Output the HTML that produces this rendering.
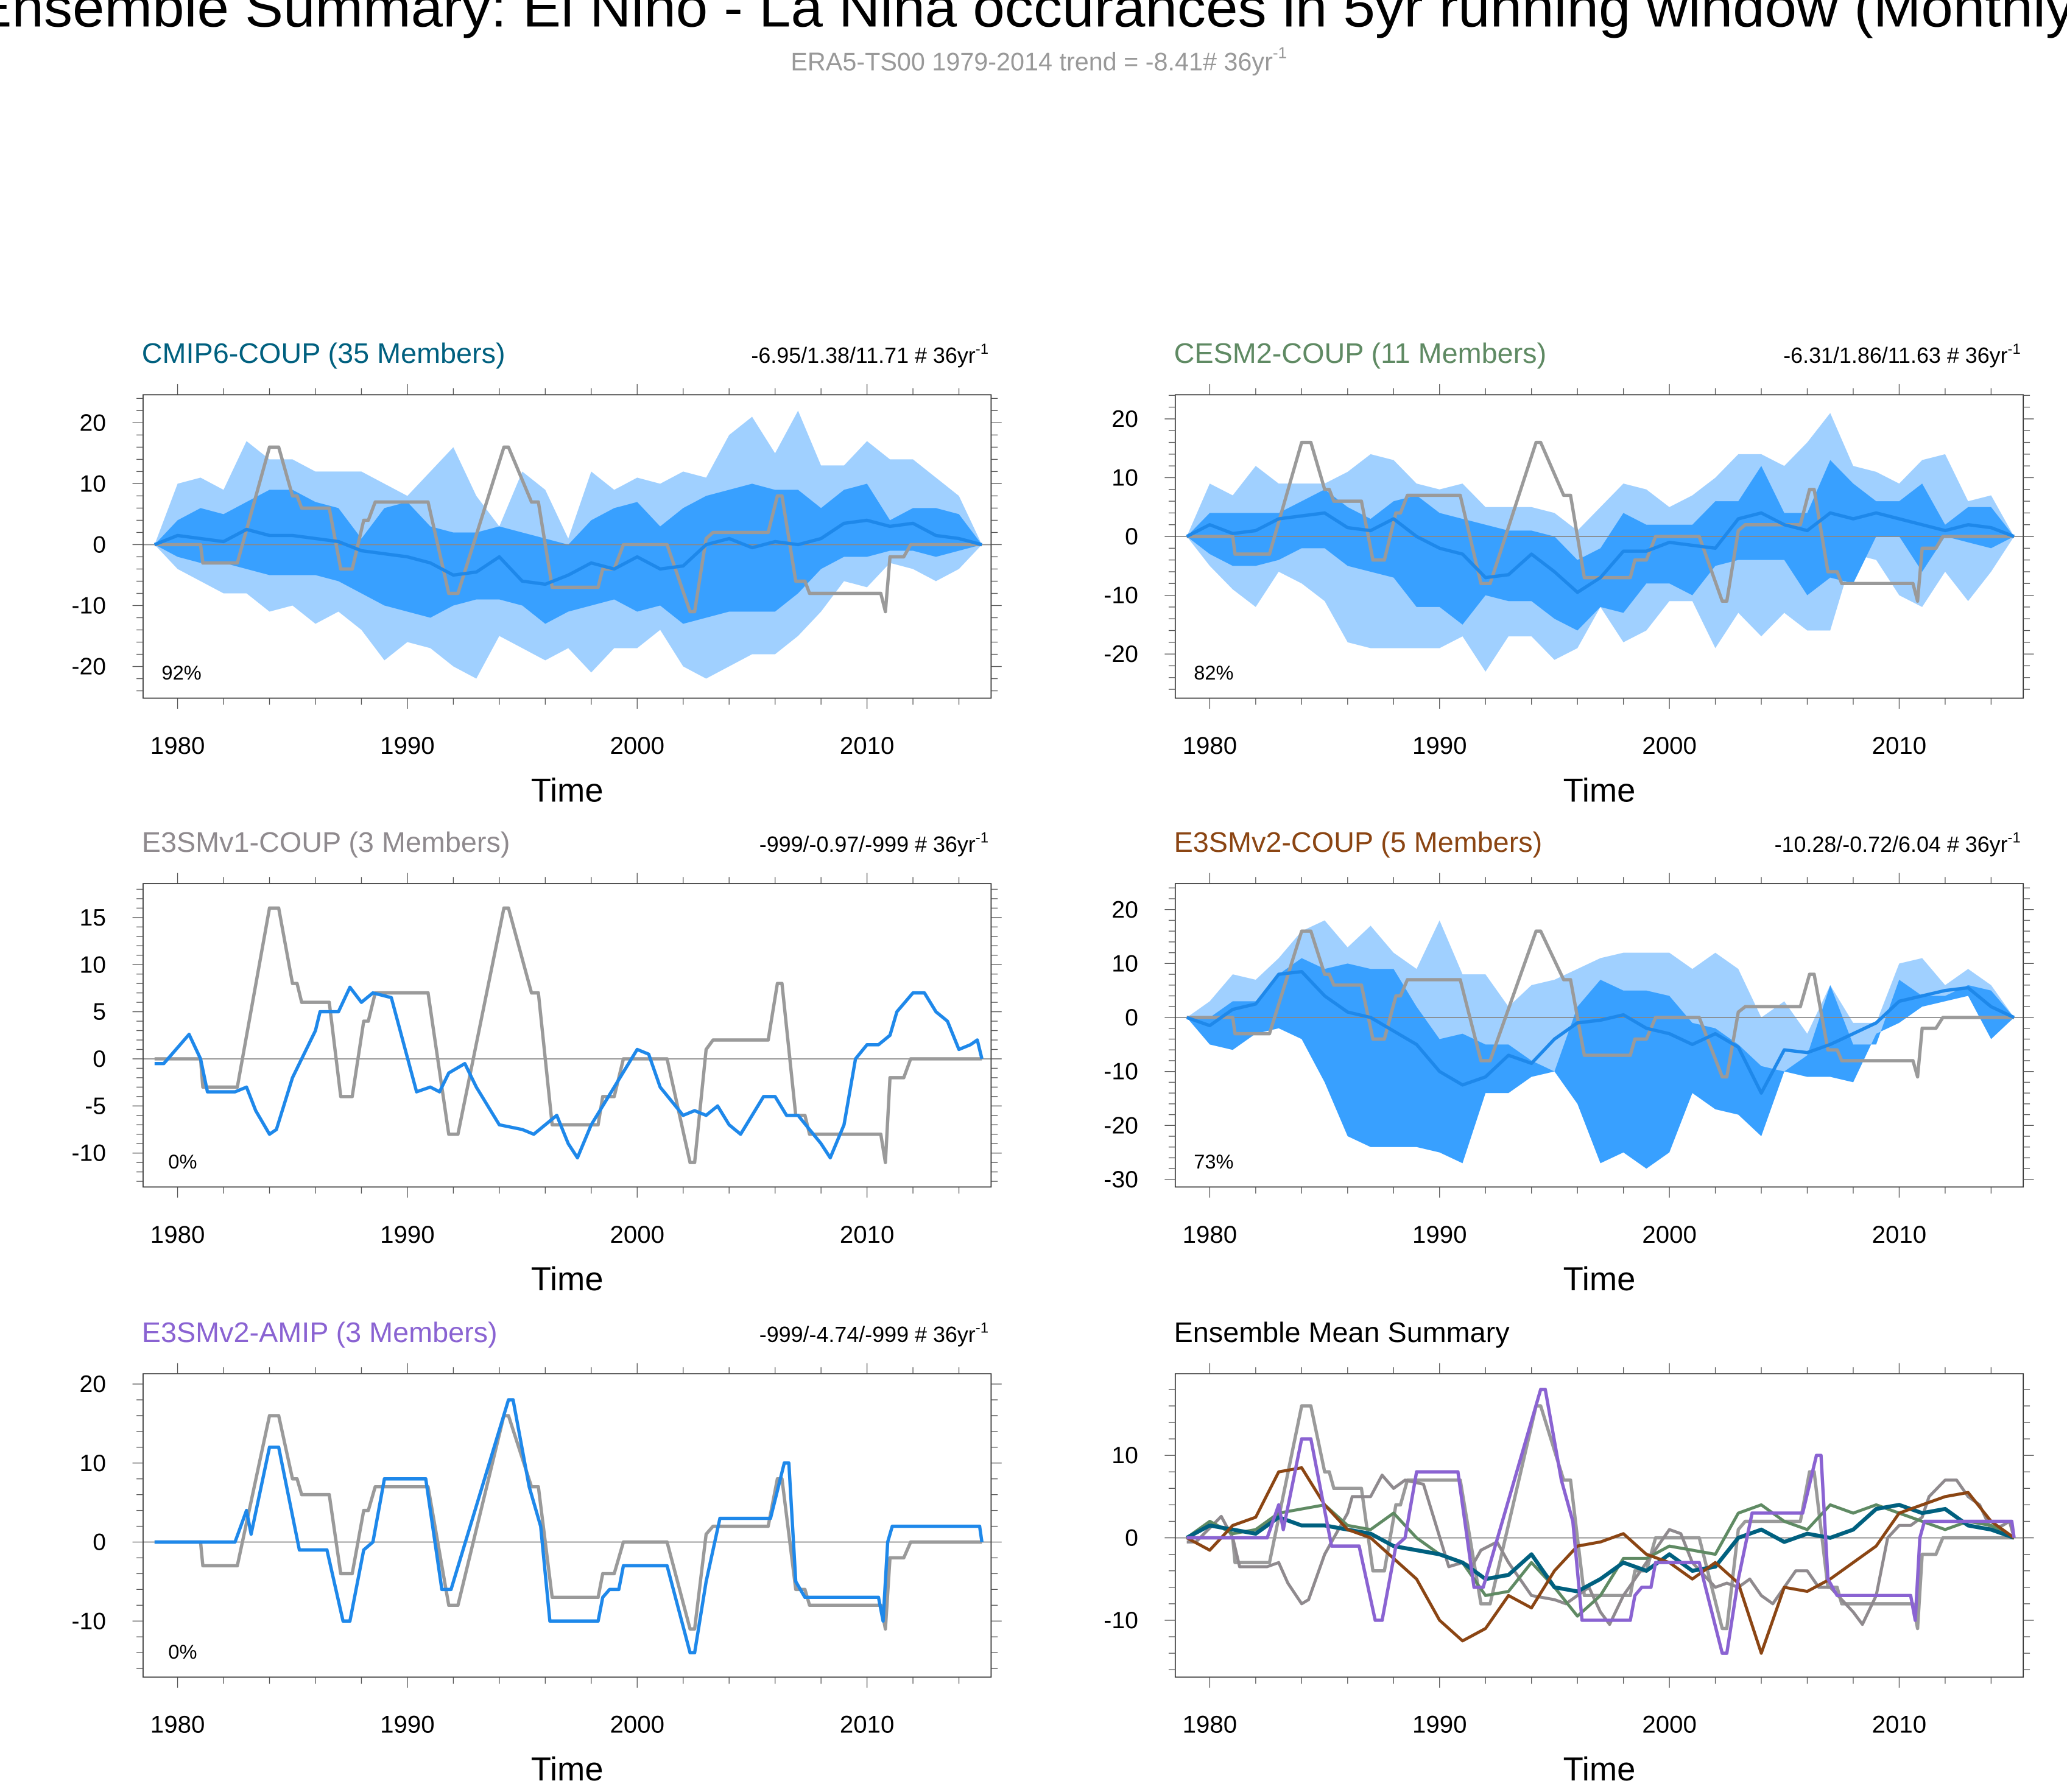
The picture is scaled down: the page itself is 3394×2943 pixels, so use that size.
<!DOCTYPE html>
<html><head><meta charset="utf-8"><title>Ensemble Summary</title>
<style>
html,body{margin:0;padding:0;background:#fff;overflow:hidden}
svg{display:block;font-family:"Liberation Sans",Arial,sans-serif}
</style></head>
<body>
<svg id="chart" xmlns="http://www.w3.org/2000/svg" width="3394" height="2943" viewBox="0 0 1560 1352.7" preserveAspectRatio="none">
<text x="780" y="20" text-anchor="middle" font-size="42" textLength="1600" lengthAdjust="spacingAndGlyphs" fill="#000">Ensemble Summary: El Niño - La Niña occurances in 5yr running window (Monthly)</text>
<text x="784" y="53" text-anchor="middle" font-size="19" fill="#999">ERA5-TS00 1979-2014 trend = -8.41# 36yr<tspan font-size="12" dy="-9">-1</tspan></text>
</svg>
<script>
// ---------- data ----------
const YEARS = [1979,1980,1981,1982,1983,1984,1985,1986,1987,1988,1989,1990,1991,1992,1993,1994,1995,1996,1997,1998,1999,2000,2001,2002,2003,2004,2005,2006,2007,2008,2009,2010,2011,2012,2013,2014,2015];

const obsYears = [1979,1981,1981.1,1982.6,1984,1984.4,1985,1985.2,1985.4,1986.6,1987.1,1987.6,1988.1,1988.3,1988.6,1990.9,1991.8,1992.2,1994.2,1994.4,1995.4,1995.7,1996.3,1998.3,1998.5,1999.0,1999.4,2001.3,2002.3,2002.5,2003.0,2003.3,2005.7,2006.1,2006.3,2006.9,2007.3,2007.5,2010.6,2010.8,2011.0,2011.6,2011.9,2015];
const obsVals  = [0,0,-3,-3,16,16,8,8,6,6,-4,-4,4,4,7,7,-8,-8,16,16,7,7,-7,-7,-4,-4,0,0,-11,-11,1,2,2,8,8,-6,-6,-8,-8,-11,-2,-2,0,0];

// CMIP6-COUP
const cmipOuterHi = [0,10,11,9,17,14,14,12,12,12,10,8,12,16,8,3,12,9,1,12,9,11,10,12,11,18,21,15,22,13,13,17,14,14,11,8,0];
const cmipOuterLo = [0,-4,-6,-8,-8,-11,-10,-13,-11,-14,-19,-16,-17,-20,-22,-15,-17,-19,-17,-21,-17,-17,-14,-20,-22,-20,-18,-18,-15,-11,-6,-7,-3,-4,-6,-4,0];
const cmipInnerHi = [0,4,6,5,7,9,9,7,6,1,6,7,3,2,2,3,2,1,0,4,6,7,3,6,8,9,10,9,9,6,9,10,4,6,6,5,0];
const cmipInnerLo = [0,-2,-3,-3,-4,-5,-5,-5,-6,-8,-10,-11,-12,-10,-9,-9,-10,-13,-11,-10,-9,-11,-10,-13,-12,-11,-11,-11,-8,-4,-2,-2,-1,-1,-2,-1,0];
const cmipMean    = [0,1.5,1,0.5,2.5,1.5,1.5,1,0.5,-1,-1.5,-2,-3,-5,-4.5,-2,-6,-6.5,-5,-3,-4,-2,-4,-3.5,0,1,-0.5,0.5,0,1,3.5,4,3,3.5,1.5,1,0];

// CESM2-COUP
const cesmOuterHi = [0,9,7,12,9,9,9,11,14,13,9,8,9,5,5,5,4,1,5,9,8,5,7,10,14,14,12,16,21,12,11,9,13,14,6,7,0];
const cesmOuterLo = [0,-5,-9,-12,-6,-8,-11,-18,-19,-19,-19,-19,-17,-23,-17,-17,-21,-19,-12,-18,-16,-11,-11,-19,-13,-17,-13,-16,-16,-3,-4,-10,-12,-6,-11,-6,0];
const cesmInnerHi = [0,4,4,4,4,6,8,5,3,6,7,4,3,2,1,1,0,-4,-2,4,2,2,2,6,6,12,4,4,13,9,6,6,9,2,5,5,0];
const cesmInnerLo = [0,-3,-5,-5,-4,-2,-2,-5,-6,-7,-12,-12,-15,-10,-11,-11,-14,-16,-12,-13,-8,-8,-10,-5,-4,-4,-4,-10,-7,-8,0,0,-6,0,-1,-2,0];
const cesmMean    = [0,2,0.5,1,3,3.5,4,1.5,1,3,0,-2,-3,-7,-6.5,-3,-6,-9.5,-7,-2.5,-2.5,-1,-1.5,-2,3,4,2,1,4,3,4,3,2,1,2,1.5,0];

// E3SMv1-COUP (single series)
const v1Years = [1979,1979.4,1980.5,1981,1981.3,1982.5,1983,1983.4,1984,1984.3,1985,1986,1986.2,1987,1987.5,1988,1988.5,1989.3,1990.4,1991,1991.4,1991.8,1992.5,1993,1994,1995,1995.5,1996,1996.5,1997,1997.4,1998,1999,2000,2000.5,2001,2002,2002.5,2003,2003.5,2004,2004.5,2005,2005.5,2006,2006.5,2007,2007.5,2008,2008.4,2009,2009.5,2010,2010.5,2011,2011.3,2012,2012.5,2013,2013.5,2014,2014.5,2014.8,2015];
const v1Vals  = [-0.5,-0.5,2.6,0,-3.5,-3.5,-3,-5.5,-8,-7.5,-2,3,5,5,7.6,6,7,6.5,-3.5,-3,-3.5,-1.5,-0.5,-3,-7,-7.5,-8,-7,-6,-9,-10.5,-7,-3,1,0.5,-3,-6,-5.5,-6,-5,-7,-8,-6,-4,-4,-6,-6,-7.5,-9,-10.5,-7,0,1.5,1.5,2.5,5,7,7,5,4,1,1.5,2,0];

// E3SMv2-COUP
const v2OuterHi = [0,3,8,7,11,16,18,13,17,12,9,18,8,8,2,6,7,9,11,12,12,12,9,12,9,0,3,-3,6,-1,-1,10,11,6,9,6,0];
const v2InnerHi = [0,0,3,3,8,11,9,10,9,9,2,-4,-3,-5,-5,-8,-10,2,7,5,5,4,-1,-2,-5,-9,-10,-7,6,-5,-5,7,4,4,6,5,0];
const v2InnerLo = [0,-5,-6,-3,-2,-4,-12,-22,-24,-24,-24,-25,-27,-14,-14,-11,-10,-16,-27,-25,-28,-25,-14,-17,-18,-22,-10,-11,-11,-12,-3,-1,2,3,4,-4,0];
const v2Mean    = [0,-1.5,1.5,2.5,8,8.5,4,1,0,-2.5,-5,-10,-12.5,-11,-7,-8.5,-4,-1,-0.5,0.5,-2,-3,-5,-3,-5.5,-14,-6,-6.5,-5,-3,-1,3,4,5,5.5,2,0];

// E3SMv2-AMIP
const amipYears = [1979,1982.5,1983,1983.2,1984,1984.4,1985.3,1986.5,1987.2,1987.5,1988.1,1988.5,1989,1990.8,1991.5,1991.9,1994.4,1994.6,1995.3,1995.8,1996.2,1998.3,1998.5,1998.8,1999.2,1999.4,2001.3,2002.3,2002.5,2003,2003.6,2005.8,2006.4,2006.6,2006.9,2007.3,2010.5,2010.7,2010.9,2011.1,2014.9,2015];
const amipVals  = [0,0,4,1,12,12,-1,-1,-10,-10,-1,0,8,8,-6,-6,18,18,7,2,-10,-10,-7,-6,-6,-3,-3,-14,-14,-5,3,3,10,10,-5,-7,-7,-10,0,2,2,0];

// ---------- layout ----------
const NS = 'http://www.w3.org/2000/svg';
const svg = document.getElementById('chart');
const C = {light:'#a0d0ff', dark:'#38a0ff', mean:'#1e88ea', obs:'#9a9a9a'};
function el(tag, attrs, parent){const e=document.createElementNS(NS,tag);for(const k in attrs)e.setAttribute(k,attrs[k]);(parent||svg).appendChild(e);return e;}

function makePanel(p){
  const g = el('g',{});
  
  
  const X0=1978.5, X1=2015.4;
  const sx = y => p.x + (y-X0)/(X1-X0)*p.w;
  const sy = v => p.y + (p.ymax-v)/(p.ymax-p.ymin)*p.h;
  const clip = 'clip-'+p.name;
  const cp = el('clipPath',{id:clip},g); el('rect',{x:p.x,y:p.y,width:p.w,height:p.h},cp);
  const plot = el('g',{'clip-path':'url(#'+clip+')'},g);
  
  
  function band(hi, lo, col, nm){
    let pts = YEARS.map((yr,i)=>sx(yr)+','+sy(hi[i]));
    pts = pts.concat(YEARS.slice().reverse().map((yr,j)=>{const i=YEARS.length-1-j;return sx(yr)+','+sy(lo[i]);}));
    const b = el('polygon',{points:pts.join(' '),fill:col},plot);
    
    
  }
  function line(xs, vs, col, w, nm){
    const d = xs.map((yr,i)=>(i?'L':'M')+sx(yr).toFixed(2)+','+sy(vs[i]).toFixed(2)).join('');
    const l = el('path',{d:d,fill:'none',stroke:col,'stroke-width':w,'stroke-linejoin':'round'},plot);
    
    
  }
  if(p.outerHi) band(p.outerHi, p.outerLo, C.light, 'outer-spread-band');
  if(p.innerHi) band(p.innerHi, p.innerLo, C.dark, 'inner-spread-band');
  const z = el('line',{x1:p.x,x2:p.x+p.w,y1:sy(0),y2:sy(0),stroke:'#888','stroke-width':0.8},plot);
  
  
  (p.lines||[]).forEach(L=>line(L.x, L.v, L.c, L.w, L.n));
  const fr = el('rect',{x:p.x,y:p.y,width:p.w,height:p.h,fill:'none',stroke:'#333','stroke-width':0.8},g);
  
  
  for(let yr=1980; yr<=2014; yr+=2){
    const maj = yr%10===0, L = maj?8:5, xx=sx(yr);
    el('line',{x1:xx,x2:xx,y1:p.y,y2:p.y-L,stroke:'#555','stroke-width':0.6},g);
    el('line',{x1:xx,x2:xx,y1:p.y+p.h,y2:p.y+p.h+L,stroke:'#555','stroke-width':0.6},g);
    if(maj){
      const t = el('text',{x:xx,y:p.y+p.h+42,'text-anchor':'middle','font-size':18.5,fill:'#000'},g);
      t.textContent = yr;
      
      
    }
  }
  for(let v=Math.ceil(p.ymin/p.minor)*p.minor; v<=p.ymax; v+=p.minor){
    const maj = Math.abs(v/p.major - Math.round(v/p.major))<1e-6, L = maj?8:5, yy=sy(v);
    el('line',{x1:p.x,x2:p.x-L,y1:yy,y2:yy,stroke:'#555','stroke-width':0.6},g);
    el('line',{x1:p.x+p.w,x2:p.x+p.w+L,y1:yy,y2:yy,stroke:'#555','stroke-width':0.6},g);
    if(maj){
      const t = el('text',{x:p.x-28,y:yy+6,'text-anchor':'end','font-size':18,fill:'#000'},g);
      t.textContent = Math.round(v);
      
      
    }
  }
  const xt = el('text',{x:p.x+320,y:p.y+p.h+78,'text-anchor':'middle','font-size':25,fill:'#000'},g);
  xt.textContent = 'Time';
  
  
  const tt = el('text',{x:p.x-1,y:p.y-24,'font-size':21.5,fill:p.tcol},g);
  tt.textContent = p.title;
  
  
  if(p.trend){
    const tr = el('text',{x:p.x+638,y:p.y-24,'text-anchor':'end','font-size':16.5,fill:'#000'},g);
    tr.textContent = p.trend + ' # 36yr';
    const sup = el('tspan',{'font-size':11,dy:-7},tr); sup.textContent='-1';
    
    
  }
  if(p.pct){
    const pc = el('text',{x:p.x+p.pctx,y:p.y+p.h-14,'font-size':15,fill:'#000'},g);
    pc.textContent = p.pct;
    
    
  }
}

const LX=108, RX=887, W=640, H=229;
const obsLine = {x:obsYears, v:obsVals, c:C.obs, w:2.5, n:'obs-line'};
makePanel({name:'cmip6',x:LX,y:298,w:W,h:H,ymin:-25.2,ymax:24.6,major:10,minor:2,title:'CMIP6-COUP (35 Members)',tcol:'#00607f',trend:'-6.95/1.38/11.71',pct:'92%',pctx:14,
  outerHi:cmipOuterHi,outerLo:cmipOuterLo,innerHi:cmipInnerHi,innerLo:cmipInnerLo,
  lines:[obsLine,{x:YEARS,v:cmipMean,c:C.mean,w:2.5,n:'ensemble-mean-line'}]});
makePanel({name:'cesm2',x:RX,y:298,w:W,h:H,ymin:-27.5,ymax:24.1,major:10,minor:2,title:'CESM2-COUP (11 Members)',tcol:'#5f8a63',trend:'-6.31/1.86/11.63',pct:'82%',pctx:14,
  outerHi:cesmOuterHi,outerLo:cesmOuterLo,innerHi:cesmInnerHi,innerLo:cesmInnerLo,
  lines:[obsLine,{x:YEARS,v:cesmMean,c:C.mean,w:2.5,n:'ensemble-mean-line'}]});
makePanel({name:'e3smv1',x:LX,y:667,w:W,h:H,ymin:-13.6,ymax:18.6,major:5,minor:1,title:'E3SMv1-COUP (3 Members)',tcol:'#8f8a8e',trend:'-999/-0.97/-999',pct:'0%',pctx:19,
  lines:[obsLine,{x:v1Years,v:v1Vals,c:C.mean,w:2.5,n:'ensemble-mean-line'}]});
makePanel({name:'e3smv2',x:RX,y:667,w:W,h:H,ymin:-31.4,ymax:24.8,major:10,minor:2,title:'E3SMv2-COUP (5 Members)',tcol:'#8b4513',trend:'-10.28/-0.72/6.04',pct:'73%',pctx:14,
  outerHi:v2OuterHi,outerLo:v2InnerLo,innerHi:v2InnerHi,innerLo:v2InnerLo,
  lines:[obsLine,{x:YEARS,v:v2Mean,c:C.mean,w:2.5,n:'ensemble-mean-line'}]});
makePanel({name:'amip',x:LX,y:1037,w:W,h:H,ymin:-17.1,ymax:21.3,major:10,minor:2,title:'E3SMv2-AMIP (3 Members)',tcol:'#8a63d2',trend:'-999/-4.74/-999',pct:'0%',pctx:19,
  lines:[obsLine,{x:amipYears,v:amipVals,c:C.mean,w:2.5,n:'ensemble-mean-line'}]});
makePanel({name:'summary',x:RX,y:1037,w:W,h:H,ymin:-16.9,ymax:19.9,major:10,minor:2,title:'Ensemble Mean Summary',tcol:'#000',
  lines:[obsLine,
    {x:v1Years,v:v1Vals,c:'#8f8a8e',w:2.3,n:'e3smv1-mean-line'},
    {x:YEARS,v:cesmMean,c:'#5f8a63',w:2.3,n:'cesm2-mean-line'},
    {x:YEARS,v:cmipMean,c:'#00607f',w:3,n:'cmip6-mean-line'},
    {x:YEARS,v:v2Mean,c:'#8b4513',w:2.3,n:'e3smv2-coup-mean-line'},
    {x:amipYears,v:amipVals,c:'#8a63d2',w:2.5,n:'amip-mean-line'}]});
</script>
</body></html>
